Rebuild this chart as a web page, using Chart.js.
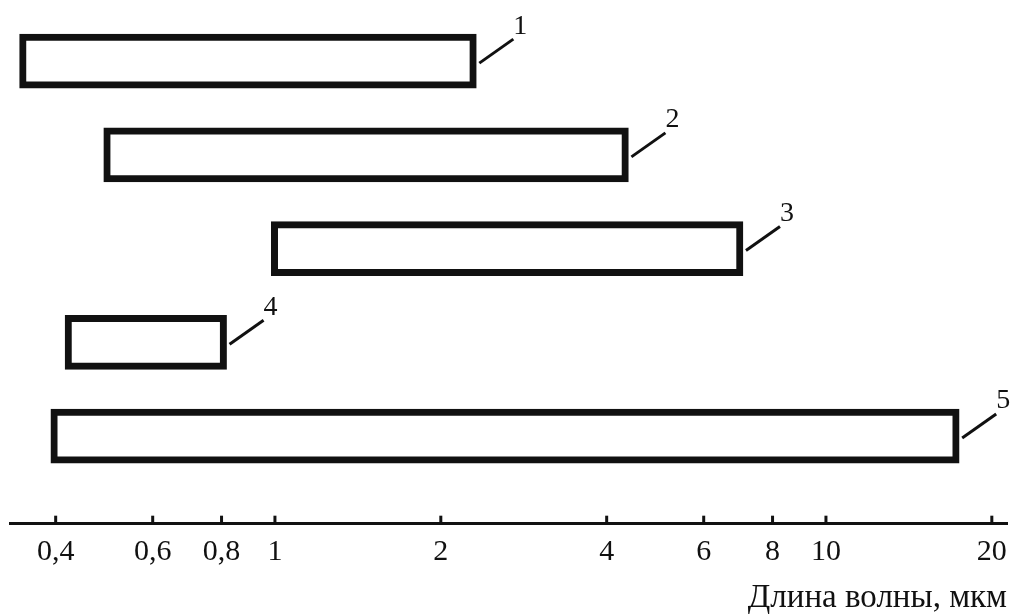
<!DOCTYPE html>
<html>
<head>
<meta charset="utf-8">
<script src="https://cdn.jsdelivr.net/npm/chart.js@4/dist/chart.umd.min.js"></script>
<style>
  html, body { margin: 0; padding: 0; background: #fff; }
  #wrap { width: 1012px; height: 616px; }
</style>
</head>
<body>
<div id="wrap"><canvas id="c"></canvas></div>
<script>
// ---- data ----
const bandLabels = ['1', '2', '3', '4', '5'];
const bandRows   = [1, 2, 3, 4, 5];
const bandStart  = [0.344, 0.489, 0.985, 0.416, 0.392];
const bandEnd    = [2.32, 4.38, 7.07, 0.817, 17.45];
const tickValues = [0.4, 0.6, 0.8, 1, 2, 4, 6, 8, 10, 20];
const tickLabels = ['0,4', '0,6', '0,8', '1', '2', '4', '6', '8', '10', '20'];
const axisTitle  = 'Длина волны, мкм';

const INK = '#111';
const SERIF = '"Liberation Serif", "DejaVu Serif", serif';

const labelPlugin = {
  id: 'bandLabels',
  afterDatasetsDraw(chart) {
    const ctx = chart.ctx;
    const xs = chart.scales.x, ys = chart.scales.y;
    ctx.save();
    ctx.strokeStyle = INK;
    ctx.fillStyle = INK;
    ctx.lineWidth = 3;
    ctx.font = '28px ' + SERIF;
    ctx.textAlign = 'center';
    ctx.textBaseline = 'middle';
    bandRows.forEach((r, i) => {
      const x = xs.getPixelForValue(bandEnd[i]);
      const y = ys.getPixelForValue(r);
      ctx.beginPath();
      ctx.moveTo(x + 3, y + 2);
      ctx.lineTo(x + 37, y - 22);
      ctx.stroke();
      ctx.fillText(bandLabels[i], x + 44, y - 35);
    });
    // tick marks pointing up from the axis line
    const yb = chart.chartArea.bottom;
    tickValues.forEach(v => {
      const x = xs.getPixelForValue(v);
      ctx.beginPath();
      ctx.moveTo(x, yb);
      ctx.lineTo(x, yb - 8);
      ctx.stroke();
    });
    ctx.restore();
  }
};

new Chart(document.getElementById('c'), {
  type: 'bar',
  data: {
    datasets: [{
      data: bandRows.map((r, i) => ({ y: r, x: [bandStart[i], bandEnd[i]] })),
      backgroundColor: '#fff',
      borderColor: INK,
      borderWidth: 7,
      borderSkipped: false,
      barThickness: 54
    }]
  },
  plugins: [labelPlugin],
  options: {
    indexAxis: 'y',
    responsive: true,
    maintainAspectRatio: false,
    animation: false,
    layout: { autoPadding: false, padding: { left: 10, right: 5, top: 5, bottom: 0 } },
    plugins: { legend: { display: false }, tooltip: { enabled: false } },
    scales: {
      x: {
        type: 'logarithmic',
        min: 0.3305,
        max: 21.31,
        bounds: 'data',
        afterBuildTicks(scale) { scale.ticks = tickValues.map(v => ({ value: v })); },
        afterFit(scale) { scale.paddingLeft = 0; scale.paddingRight = 0; },
        grid: { display: false, drawTicks: false },
        border: { display: true, color: INK, width: 3 },
        ticks: {
          autoSkip: false,
          maxRotation: 0,
          padding: 10,
          color: INK,
          font: { family: SERIF, size: 30, lineHeight: 1.2 },
          callback(value) {
            const k = tickValues.indexOf(value);
            return k >= 0 ? tickLabels[k] : '';
          }
        },
        title: {
          display: true,
          text: axisTitle,
          align: 'end',
          color: INK,
          font: { family: SERIF, size: 33, lineHeight: 1.07 },
          padding: { top: 1, bottom: 0 }
        }
      },
      y: {
        type: 'linear',
        reverse: true,
        min: 0.401,
        max: 5.935,
        bounds: 'data',
        offset: false,
        display: false
      }
    }
  }
});
</script>
</body>
</html>
